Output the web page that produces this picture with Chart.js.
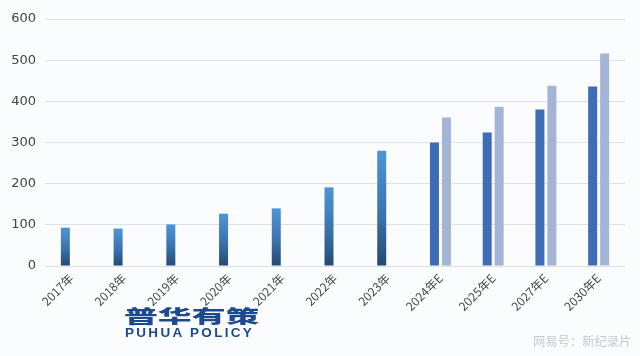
<!DOCTYPE html>
<html>
<head>
<meta charset="utf-8">
<script src="https://cdn.jsdelivr.net/npm/chart.js@4/dist/chart.umd.min.js"></script>
<style>
  html, body { margin:0; padding:0; background:#fbfcfe; }
  #wrap { position:relative; width:640px; height:356px; }
  canvas { display:block; }
  .logo-cn { position:absolute; left:124px; top:306px; font-family:"Noto Sans CJK SC"; font-weight:900; font-size:18.5px; line-height:19px; color:#1d4a8c; transform:scaleX(1.83); transform-origin:left top; white-space:nowrap; }
  .logo-en { position:absolute; left:125px; top:326px; font-family:"Liberation Sans", Arial, sans-serif; font-weight:bold; font-size:13.5px; line-height:14px; letter-spacing:2.3px; color:#1d4a8c; white-space:nowrap; }
  .wm { position:absolute; left:533px; top:335px; font-family:"Noto Sans CJK SC"; font-size:12.3px; line-height:13px; color:#c4c8ce; white-space:nowrap; }
</style>
</head>
<body>
<div id="wrap">
  <canvas id="c" width="640" height="356"></canvas>
  <div class="logo-cn">普华有策</div>
  <div class="logo-en">PUHUA POLICY</div>
  <div class="wm">网易号：新纪录片</div>
</div>
<script>
const categories = ['2017年','2018年','2019年','2020年','2021年','2022年','2023年','2024年E','2025年E','2027年E','2030年E'];
const seriesA = [93, 91, 101, 127, 140, 191, 280, 300, 324, 380, 436];
const seriesB = [null, null, null, null, null, null, null, 361, 387, 438, 516];
const yTicks = [0, 100, 200, 300, 400, 500, 600];

function colorA(ctx) {
  const chart = ctx.chart;
  const i = ctx.dataIndex;
  if (seriesB[i] !== null && seriesB[i] !== undefined) return '#3e6cb6';
  const area = chart.chartArea;
  if (!area || ctx.raw == null) return '#3f7fc0';
  const ys = chart.scales.y;
  const top = ys.getPixelForValue(ctx.raw);
  const bottom = ys.getPixelForValue(0);
  const g = chart.ctx.createLinearGradient(0, top, 0, bottom);
  g.addColorStop(0, '#4d95d8');
  g.addColorStop(0.55, '#3a73ad');
  g.addColorStop(1, '#234a72');
  return g;
}

new Chart(document.getElementById('c'), {
  type: 'bar',
  data: {
    labels: categories,
    datasets: [
      { data: seriesA, backgroundColor: colorA, borderWidth: 0, barPercentage: 0.75, categoryPercentage: 0.455 },
      { data: seriesB, backgroundColor: '#a3b4d7', borderWidth: 0, barPercentage: 0.75, categoryPercentage: 0.455 }
    ]
  },
  options: {
    responsive: false,
    animation: false,
    events: [],
    layout: { padding: { top: 19, right: 15, left: 0, bottom: 0 } },
    plugins: { legend: { display: false }, tooltip: { enabled: false } },
    scales: {
      x: {
        grid: { display: false, drawTicks: false },
        border: { display: false },
        ticks: { color: '#4a4a4a', font: { family: 'Noto Sans CJK SC, DejaVu Sans', size: 12 }, maxRotation: 45, minRotation: 45, padding: 5, autoSkip: false },
        afterFit: (s) => { s.height = 90; }
      },
      y: {
        min: 0, max: 600,
        afterBuildTicks: (s) => { s.ticks = yTicks.map(v => ({ value: v })); },
        grid: { color: '#dde1e7', lineWidth: 1, drawTicks: false },
        border: { display: false },
        ticks: { color: '#444', font: { family: 'DejaVu Sans', size: 13 }, padding: 9 },
        afterFit: (s) => { s.width = 45; }
      }
    }
  }
});
</script>
</body>
</html>
